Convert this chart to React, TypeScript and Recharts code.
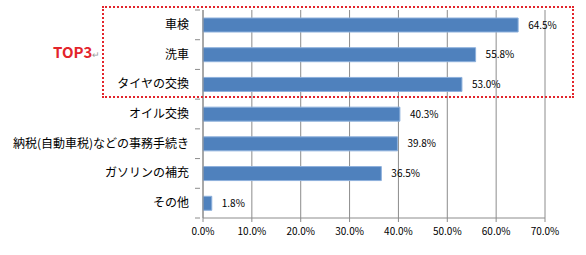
import React from 'react'
import { BarChart, Bar, XAxis, YAxis, CartesianGrid, LabelList } from 'recharts'

// ---------------------------------------------------------------------------
// Data
// ---------------------------------------------------------------------------

const categories = [
  '車検',
  '洗車',
  'タイヤの交換',
  'オイル交換',
  '納税(自動車税)などの事務手続き',
  'ガソリンの補充',
  'その他',
]
const values = [64.5, 55.8, 53.0, 40.3, 39.8, 36.5, 1.8]
const xTicks = [0, 10, 20, 30, 40, 50, 60, 70]

const data = categories.map((name, i) => ({ name, value: values[i] }))

const W = 586
const H = 255
const PLOT_TOP = 10
const PLOT_BOTTOM = 218
const BAND = (PLOT_BOTTOM - PLOT_TOP) / categories.length
const FONT = '"Noto Sans CJK JP", "Noto Sans", sans-serif'
const GRID = '#8c8c8c'

function CategoryTick(props: any) {
  const { x, y, payload, index } = props
  const top = y - BAND / 2
  const bottom = y + BAND / 2
  return (
    <g>
      <line x1={x} x2={x + 5} y1={top} y2={top} stroke={GRID} />
      {index === categories.length - 1 && (
        <line x1={x} x2={x + 5} y1={bottom} y2={bottom} stroke={GRID} />
      )}
      <text x={x - 6} y={y} dy={4} textAnchor="end" fontSize={12} fill="#000" fontFamily={FONT}>
        {payload.value}
      </text>
    </g>
  )
}

export default function App() {
  return (
    <div style={{ position: 'absolute', left: 0, top: 0, width: W, height: H, background: '#fff' }}>
      <BarChart
        width={W}
        height={H}
        data={data}
        layout="vertical"
        margin={{ top: PLOT_TOP, right: 41, bottom: H - PLOT_BOTTOM - 30, left: 0 }}
        barCategoryGap="26%"
      >
        <CartesianGrid horizontal={false} stroke={GRID} />
        <XAxis
          type="number"
          domain={[0, 70]}
          ticks={xTicks}
          interval={0}
          tickFormatter={(v: number) => v.toFixed(1) + '%'}
          axisLine={{ stroke: GRID }}
          tickLine={{ stroke: GRID }}
          tickSize={4}
          tickMargin={6}
          height={30}
          tick={{ fontSize: 10, fill: '#000', fontFamily: FONT }}
        />
        <YAxis
          type="category"
          dataKey="name"
          width={203}
          axisLine={{ stroke: GRID }}
          tickLine={false}
          tick={<CategoryTick />}
          interval={0}
        />
        <Bar dataKey="value" fill="#4f81bd" stroke="#8db0dc" strokeWidth={1} barSize={14} isAnimationActive={false}>
          <LabelList
            dataKey="value"
            position="right"
            offset={10}
            formatter={(v: any) => Number(v).toFixed(1) + '%'}
            style={{ fontSize: 10, fill: '#000', fontFamily: FONT }}
          />
        </Bar>
      </BarChart>

      {/* TOP3 highlight box */}
      <div
        style={{
          position: 'absolute',
          left: 102,
          top: 6,
          width: 472,
          height: 92,
          border: '2px dotted #e3242b',
          boxSizing: 'border-box',
          pointerEvents: 'none',
        }}
      />
      <div
        style={{
          position: 'absolute',
          left: 53,
          top: 43,
          fontFamily: FONT,
          fontSize: 15,
          fontWeight: 700,
          color: '#e3242b',
          lineHeight: '18px',
          whiteSpace: 'nowrap',
        }}
      >
        TOP3<span style={{ color: '#999', fontSize: 9, fontWeight: 400 }}>↵</span>
      </div>
    </div>
  )
}
